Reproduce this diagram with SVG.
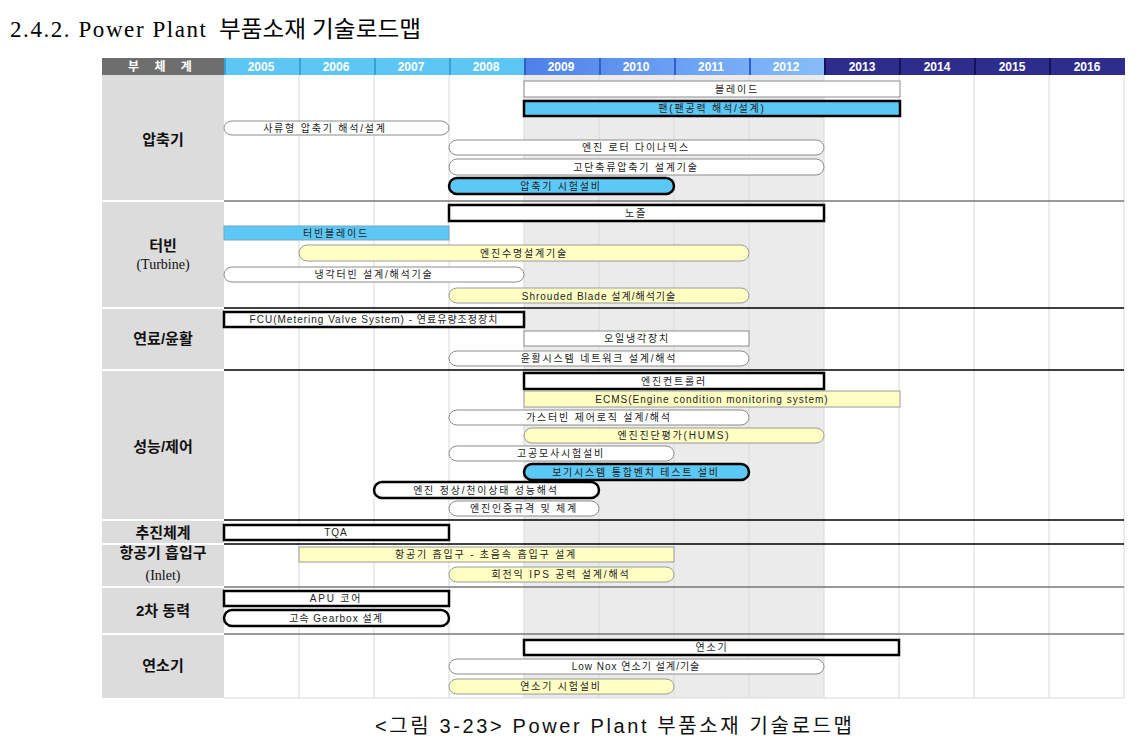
<svg xmlns="http://www.w3.org/2000/svg" width="1146" height="750" viewBox="0 0 1146 750">
<defs>
<linearGradient id="gMid" x1="0" y1="0" x2="1" y2="0">
<stop offset="0" stop-color="#4f7fe8"/><stop offset="0.5" stop-color="#6aa0f4"/><stop offset="1" stop-color="#86bdf8"/>
</linearGradient>
</defs>
<style>
.title{font-family:"Liberation Serif","Noto Sans CJK KR",serif;font-size:23px;fill:#000}
.cap{font-family:"Liberation Sans","Noto Sans CJK KR",sans-serif;font-size:20px;fill:#111}
.hd{font-family:"Liberation Sans","Noto Sans CJK KR",sans-serif;font-size:12px;font-weight:bold;fill:#fff;text-anchor:middle}
.lbl{font-family:"Liberation Sans","Noto Sans CJK KR",sans-serif;font-size:15px;font-weight:bold;fill:#111;text-anchor:middle}
.sub{font-family:"Liberation Serif","Noto Sans CJK KR",serif;font-size:14px;fill:#111;text-anchor:middle}
.t{font-family:"Liberation Sans","Noto Sans CJK KR",sans-serif;font-size:10px;fill:#222;text-anchor:middle;letter-spacing:1.8px}
.lat{letter-spacing:1px}
.w{fill:#fff;stroke:#8c8c8c;stroke-width:1}
.wb{fill:#fff;stroke:#000;stroke-width:2.5}
.b{fill:#5cc8f5;stroke:#7aa4c0;stroke-width:1}
.bb{fill:#5cc8f5;stroke:#000;stroke-width:2.5}
.y{fill:#ffffc4;stroke:#9a9a9a;stroke-width:1}
.grid{stroke:#d9d9d9;stroke-width:1}
.sep{stroke:#000;stroke-width:1.5}
.sepg{stroke:#777;stroke-width:1.5}
</style>
<rect width="1146" height="750" fill="#fff"/>
<text class="title" y="37"><tspan x="10" textLength="196" lengthAdjust="spacing">2.4.2. Power Plant</tspan><tspan x="219" textLength="202" lengthAdjust="spacingAndGlyphs">부품소재 기술로드맵</tspan></text>

<g id="header">
<rect x="102" y="58" width="122" height="17" fill="#6e6e6e"/>
<text class="hd" x="163" y="71" letter-spacing="6">부 체 계</text>
<rect x="224" y="58" width="300" height="17" fill="#5cc6f4"/>
<rect x="524" y="58" width="300" height="17" fill="url(#gMid)"/>
<rect x="824" y="58" width="301" height="17" fill="#2e2d8c"/>
<g stroke-width="2">
<line x1="225" y1="58" x2="225" y2="75" stroke="#3aa0d8"/>
<line x1="300" y1="58" x2="300" y2="75" stroke="#3aa0d8"/>
<line x1="375" y1="58" x2="375" y2="75" stroke="#3aa0d8"/>
<line x1="450" y1="58" x2="450" y2="75" stroke="#3aa0d8"/>
<line x1="525" y1="58" x2="525" y2="75" stroke="#2f5fc8"/>
<line x1="600" y1="58" x2="600" y2="75" stroke="#2f5fc8"/>
<line x1="675" y1="58" x2="675" y2="75" stroke="#2f5fc8"/>
<line x1="750" y1="58" x2="750" y2="75" stroke="#2f5fc8"/>
<line x1="825" y1="58" x2="825" y2="75" stroke="#14135e"/>
<line x1="900" y1="58" x2="900" y2="75" stroke="#14135e"/>
<line x1="975" y1="58" x2="975" y2="75" stroke="#14135e"/>
<line x1="1050" y1="58" x2="1050" y2="75" stroke="#14135e"/>
</g>
<text class="hd" x="261" y="71">2005</text>
<text class="hd" x="336" y="71">2006</text>
<text class="hd" x="411" y="71">2007</text>
<text class="hd" x="486" y="71">2008</text>
<text class="hd" x="561" y="71">2009</text>
<text class="hd" x="636" y="71">2010</text>
<text class="hd" x="711" y="71">2011</text>
<text class="hd" x="786" y="71">2012</text>
<text class="hd" x="862" y="71">2013</text>
<text class="hd" x="937" y="71">2014</text>
<text class="hd" x="1012" y="71">2015</text>
<text class="hd" x="1087" y="71">2016</text>
</g>

<g id="background">
<rect x="524" y="75" width="300" height="623" fill="#ebebeb"/>
<g class="grid">
<line x1="299" y1="75" x2="299" y2="698"/>
<line x1="374" y1="75" x2="374" y2="698"/>
<line x1="449" y1="75" x2="449" y2="698"/>
<line x1="524" y1="75" x2="524" y2="698"/>
<line x1="599" y1="75" x2="599" y2="698"/>
<line x1="674" y1="75" x2="674" y2="698"/>
<line x1="749" y1="75" x2="749" y2="698"/>
<line x1="824" y1="75" x2="824" y2="698"/>
<line x1="899" y1="75" x2="899" y2="698"/>
<line x1="974" y1="75" x2="974" y2="698"/>
<line x1="1049" y1="75" x2="1049" y2="698"/>
<line x1="1124" y1="75" x2="1124" y2="698"/>
<line x1="224" y1="698" x2="1124" y2="698"/>
</g>
<g fill="#dcdcdc">
<rect x="102" y="75" width="122" height="125"/>
<rect x="102" y="202" width="122" height="105"/>
<rect x="102" y="309" width="122" height="60"/>
<rect x="102" y="371" width="122" height="148"/>
<rect x="102" y="521" width="122" height="22"/>
<rect x="102" y="545" width="122" height="41"/>
<rect x="102" y="588" width="122" height="45"/>
<rect x="102" y="635" width="122" height="63"/>
</g>
<line class="sepg" x1="224" y1="201" x2="1124" y2="201"/>
<line class="sep" x1="224" y1="308" x2="1124" y2="308"/>
<line class="sep" x1="224" y1="370" x2="1124" y2="370"/>
<line class="sep" x1="224" y1="520" x2="1124" y2="520"/>
<line class="sep" x1="224" y1="544" x2="1124" y2="544"/>
<line class="sepg" x1="224" y1="587" x2="1124" y2="587"/>
<line class="sepg" x1="224" y1="634" x2="1124" y2="634"/>
</g>

<g id="labels">
<text class="lbl" x="163" y="145">압축기</text>
<text class="lbl" x="163" y="251">터빈</text>
<text class="sub" x="163" y="269">(Turbine)</text>
<text class="lbl" x="163" y="344">연료/윤활</text>
<text class="lbl" x="163" y="452">성능/제어</text>
<text class="lbl" x="163" y="538">추진체계</text>
<text class="lbl" x="163" y="558">항공기 흡입구</text>
<text class="sub" x="163" y="580">(Inlet)</text>
<text class="lbl" x="163" y="616">2차 동력</text>
<text class="lbl" x="163" y="671">연소기</text>
</g>

<g id="bars">
<g id="n1"><rect class="w" x="524" y="81" width="376" height="16"/><text class="t" x="737" y="93">블레이드</text></g>
<g id="n2"><rect class="bb" x="524" y="101" width="376" height="15"/><text class="t" x="712" y="112">팬(팬공력 해석/설계)</text></g>
<g id="n3"><rect class="w" x="224" y="121" width="225" height="14" rx="8"/><text class="t" x="325" y="132">사류형 압축기 해석/설계</text></g>
<g id="n4"><rect class="w" x="449" y="140" width="375" height="15" rx="8"/><text class="t" x="636" y="151">엔진 로터 다이나믹스</text></g>
<g id="n5"><rect class="w" x="449" y="159" width="375" height="16" rx="8"/><text class="t" x="636" y="171">고단축류압축기 설계기술</text></g>
<g id="n6"><rect class="bb" x="449" y="178" width="225" height="16" rx="8"/><text class="t" x="561" y="190">압축기 시험설비</text></g>

<g id="n7"><rect class="wb" x="449" y="205" width="375" height="16"/><text class="t" x="636" y="217">노즐</text></g>
<g id="n8"><rect class="b" x="224" y="226" width="225" height="14"/><text class="t" x="336" y="237">터빈블레이드</text></g>
<g id="n9"><rect class="y" x="299" y="245" width="450" height="16" rx="8"/><text class="t" x="524" y="257">엔진수명설계기술</text></g>
<g id="n10"><rect class="w" x="224" y="267" width="300" height="15" rx="8"/><text class="t" x="374" y="278">냉각터빈 설계/해석기술</text></g>
<g id="n11"><rect class="y" x="449" y="288" width="300" height="15" rx="8"/><text class="t lat" x="599" y="300">Shrouded Blade 설계/해석기술</text></g>

<g id="n12"><rect class="wb" x="224" y="312" width="300" height="15"/><text class="t lat" x="374" y="323">FCU(Metering Valve System) - 연료유량조정장치</text></g>
<g id="n13"><rect class="w" x="524" y="331" width="225" height="15"/><text class="t" x="637" y="342">오일냉각장치</text></g>
<g id="n14"><rect class="w" x="449" y="351" width="300" height="15" rx="8"/><text class="t" x="599" y="362">윤활시스템 네트워크 설계/해석</text></g>

<g id="n15"><rect class="wb" x="524" y="373" width="300" height="16"/><text class="t" x="674" y="385">엔진컨트롤러</text></g>
<g id="n16"><rect class="y" x="524" y="391" width="376" height="16"/><text class="t lat" x="712" y="403">ECMS(Engine condition monitoring system)</text></g>
<g id="n17"><rect class="w" x="449" y="410" width="300" height="15" rx="8"/><text class="t" x="599" y="421">가스터빈 제어로직 설계/해석</text></g>
<g id="n18"><rect class="y" x="524" y="428" width="300" height="15" rx="8"/><text class="t" x="674" y="439">엔진진단평가(HUMS)</text></g>
<g id="n19"><rect class="w" x="449" y="446" width="225" height="15" rx="8"/><text class="t" x="561" y="457">고공모사시험설비</text></g>
<g id="n20"><rect class="bb" x="524" y="464" width="225" height="16" rx="8"/><text class="t" x="636" y="476">보기시스템 통합벤치 테스트 설비</text></g>
<g id="n21"><rect class="wb" x="374" y="482" width="225" height="16" rx="8"/><text class="t" x="486" y="494">엔진 정상/천이상태 성능해석</text></g>
<g id="n22"><rect class="w" x="449" y="501" width="150" height="15" rx="8"/><text class="t" x="524" y="512">엔진인증규격 및 체계</text></g>

<g id="n23"><rect class="wb" x="224" y="525" width="225" height="15"/><text class="t lat" x="336" y="536">TQA</text></g>

<g id="n24"><rect class="y" x="299" y="547" width="375" height="15"/><text class="t" x="486" y="558">항공기 흡입구 - 초음속 흡입구 설계</text></g>
<g id="n25"><rect class="y" x="449" y="567" width="225" height="15" rx="8"/><text class="t" x="561" y="578">회전익 IPS 공력 설계/해석</text></g>

<g id="n26"><rect class="wb" x="224" y="591" width="225" height="15"/><text class="t" x="336" y="602">APU 코어</text></g>
<g id="n27"><rect class="wb" x="224" y="610" width="225" height="16" rx="8"/><text class="t lat" x="336" y="622">고속 Gearbox 설계</text></g>

<g id="n28"><rect class="wb" x="524" y="640" width="375" height="15"/><text class="t" x="712" y="651">연소기</text></g>
<g id="n29"><rect class="w" x="449" y="659" width="375" height="15" rx="8"/><text class="t lat" x="636" y="670">Low Nox 연소기 설계/기술</text></g>
<g id="n30"><rect class="y" x="449" y="679" width="225" height="15" rx="8"/><text class="t" x="561" y="690">연소기 시험설비</text></g>
</g>

<g id="connectors"></g>

<text class="cap" x="375" y="733" textLength="477" lengthAdjust="spacing">&lt;그림 3-23&gt; Power Plant 부품소재 기술로드맵</text>
</svg>
